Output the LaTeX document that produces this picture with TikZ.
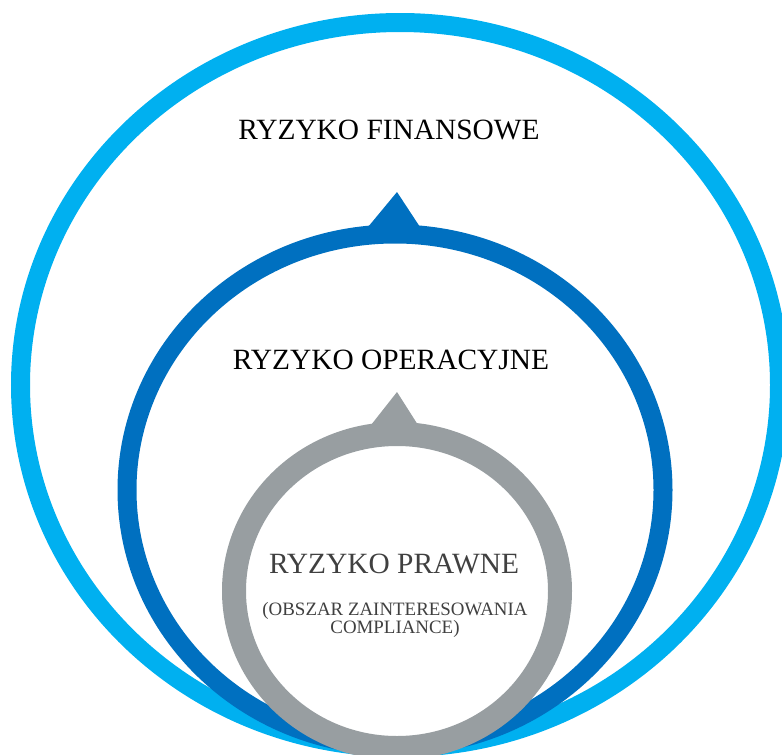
\documentclass[tikz,border=0pt]{standalone}
\usepackage{fontspec}
\setmainfont{Liberation Serif}
\definecolor{finblue}{HTML}{00B0F0}
\definecolor{opblue}{HTML}{0070C0}
\definecolor{prgray}{HTML}{989EA1}
\definecolor{prtext}{HTML}{404040}
\begin{document}
\begin{tikzpicture}[x=1pt, y=-1pt,
    ring/.style={line width=19pt},
    riskname/.style={anchor=base, inner sep=0pt, font=\fontsize{29.4}{31}\selectfont},
    risknote/.style={anchor=base, inner sep=0pt, align=center, text=prtext,
        font=\fontsize{18.9}{18}\selectfont}]
    \useasboundingbox (0, 0) rectangle (782, 755);
    \clip (0, 0) rectangle (782, 755);
    % rings
    \coordinate (fin) at (400, 385);
    \coordinate (op) at (395, 490);
    \coordinate (pr) at (397, 591);
    \draw[ring, finblue] (fin) ellipse [x radius=379.5pt, y radius=362.5pt];
    \draw[ring, opblue] (op) ellipse [x radius=268pt, y radius=256pt];
    \fill[opblue] (368, 227) -- (397, 192) -- (420, 227) -- cycle;
    \draw[ring, prgray, line width=24pt] (pr) ellipse [x radius=163pt, y radius=157pt];
    \fill[prgray] (371, 425) -- (397, 392) -- (418, 425) -- cycle;
    % labels
    \node[riskname] (finlabel) at (389, 139) {RYZYKO FINANSOWE};
    \node[riskname] (oplabel) at (391, 369) {RYZYKO OPERACYJNE};
    \node[riskname, text=prtext] (prlabel) at (394, 573) {RYZYKO PRAWNE};
    \node[risknote] (prnote) at (395, 633) {(OBSZAR ZAINTERESOWANIA\\COMPLIANCE)};
\end{tikzpicture}
\end{document}
